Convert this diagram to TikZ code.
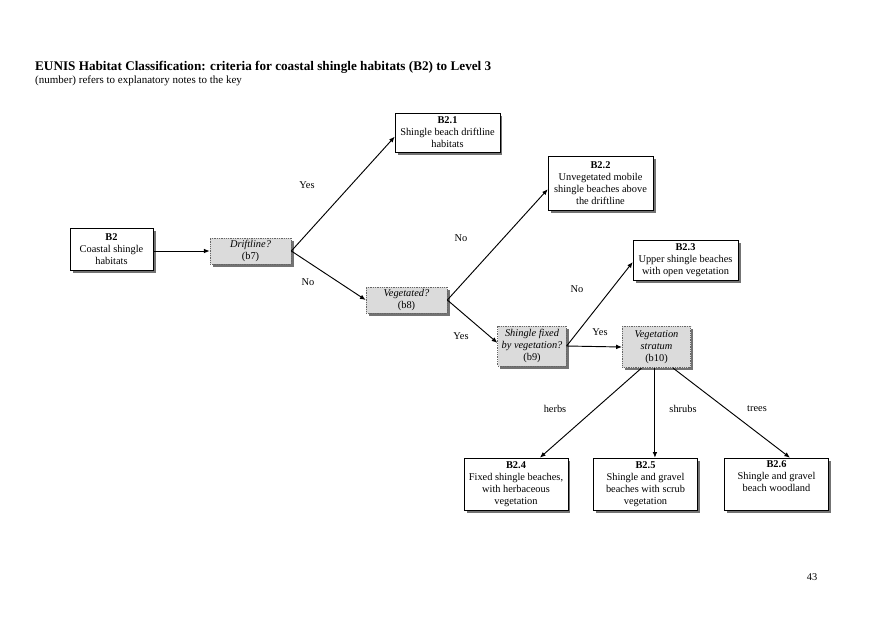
\documentclass[tikz,border=0pt]{standalone}
\usepackage{fontspec}
\setmainfont{Liberation Serif}
\usepackage{xcolor}
\colorlet{colQuest}{black!14}
\colorlet{colQuestLine}{black!60}
\colorlet{colShadow}{black!55}
\usepackage{tikz}
\usetikzlibrary{arrows.meta, positioning, calc, shadows}

\begin{document}
\begin{tikzpicture}[x=0.03387cm, y=-0.03387cm,
		habitat/.style={draw, fill=white, line width=0.7pt, align=center, inner sep=1pt,
			font=\fontsize{10}{11.5}\selectfont,
			drop shadow={shadow xshift=2.5pt, shadow yshift=-2.5pt, fill=colShadow, opacity=1}},
		quest/.style={habitat, fill=colQuest, draw=colQuestLine, densely dotted},
		link/.style={-{Latex[length=5.5pt, width=4.5pt]}, line width=0.9pt},
		lbl/.style={font=\fontsize{10}{11.5}\selectfont}]
	\useasboundingbox (0,0) rectangle (877,620);
	% heading
	\node[anchor=base west, inner sep=0pt, font=\bfseries\fontsize{12.7}{14}\selectfont] (title) at (35,70)
		{EUNIS Habitat Classification: criteria for coastal shingle habitats (B2) to Level 3};
	\node[anchor=base west, inner sep=0pt, font=\fontsize{10.6}{12}\selectfont] (subtitle) at (35,83)
		{(number) refers to explanatory notes to the key};
	% habitats and questions
	\node[habitat, minimum width=80pt, minimum height=41pt] (b2) at (111.5,249.5)
		{\textbf{B2}\\Coastal shingle\\habitats};
	\node[quest, minimum width=78pt, minimum height=25pt] (drift) at (250.5,251)
		{\textit{Driftline?}\\(b7)};
	\node[habitat, minimum width=101pt, minimum height=37.5pt] (b21) at (447.5,132.5)
		{\textbf{B2.1}\\Shingle beach driftline\\habitats};
	\node[quest, minimum width=78pt, minimum height=25pt] (veg) at (406.5,300)
		{\textit{Vegetated?}\\(b8)};
	\node[habitat, minimum width=101pt, minimum height=52pt] (b22) at (600.5,183)
		{\textbf{B2.2}\\Unvegetated mobile\\shingle beaches above\\the driftline};
	\node[quest, minimum width=66pt, minimum height=38.5pt] (fixed) at (532,346)
		{\textit{Shingle fixed}\\\textit{by vegetation?}\\(b9)};
	\node[habitat, minimum width=101pt, minimum height=38.5pt] (b23) at (685.5,260)
		{\textbf{B2.3}\\Upper shingle beaches\\with open vegetation};
	\node[quest, minimum width=66pt, minimum height=40pt] (strat) at (656.5,347)
		{\textit{Vegetation}\\\textit{stratum}\\(b10)};
	\node[habitat, minimum width=100pt, minimum height=50pt] (b24) at (516,484)
		{\textbf{B2.4}\\Fixed shingle beaches,\\with herbaceous\\vegetation};
	\node[habitat, minimum width=100pt, minimum height=50pt] (b25) at (645.5,484)
		{\textbf{B2.5}\\Shingle and gravel\\beaches with scrub\\vegetation};
	\node[habitat, minimum width=100pt, minimum height=50pt] (b26) at (776.5,484)
		{\textbf{B2.6}\\Shingle and gravel\\beach woodland\\\strut};
	% connectors
	\draw[link] (b2.east |- drift.west) -- (drift.west);
	\draw[link] (drift.east) -- ([yshift=-4pt]b21.west);
	\draw[link] (drift.east) -- (veg.west);
	\draw[link] (veg.east) -- ([yshift=-6pt]b22.west);
	\draw[link] (veg.east) -- ([yshift=3pt]fixed.west);
	\draw[link] (fixed.east) -- ([yshift=-2pt]b23.west);
	\draw[link] (fixed.east) -- (strat.west);
	\draw[link] ([xshift=-14.5pt]strat.south) -- ([xshift=23pt]b24.north);
	\draw[link] ([xshift=-1.5pt]strat.south) -- ([xshift=-1.5pt]strat.south |- b25.north);
	\draw[link] ([xshift=16pt]strat.south) -- ([xshift=13pt]b26.north);
	% answers
	\node[lbl] (yes1) at (307,185) {Yes};
	\node[lbl] (no1) at (308,282) {No};
	\node[lbl] (no2) at (461,238) {No};
	\node[lbl] (yes2) at (461,336) {Yes};
	\node[lbl] (no3) at (577,289) {No};
	\node[lbl] (yes3) at (600,332) {Yes};
	\node[lbl] (herbs) at (555,409) {herbs};
	\node[lbl] (shrubs) at (683,409) {shrubs};
	\node[lbl] (trees) at (757,409) {trees};
	% page number
	\node[lbl] (page) at (812,577) {43};
\end{tikzpicture}
\end{document}
